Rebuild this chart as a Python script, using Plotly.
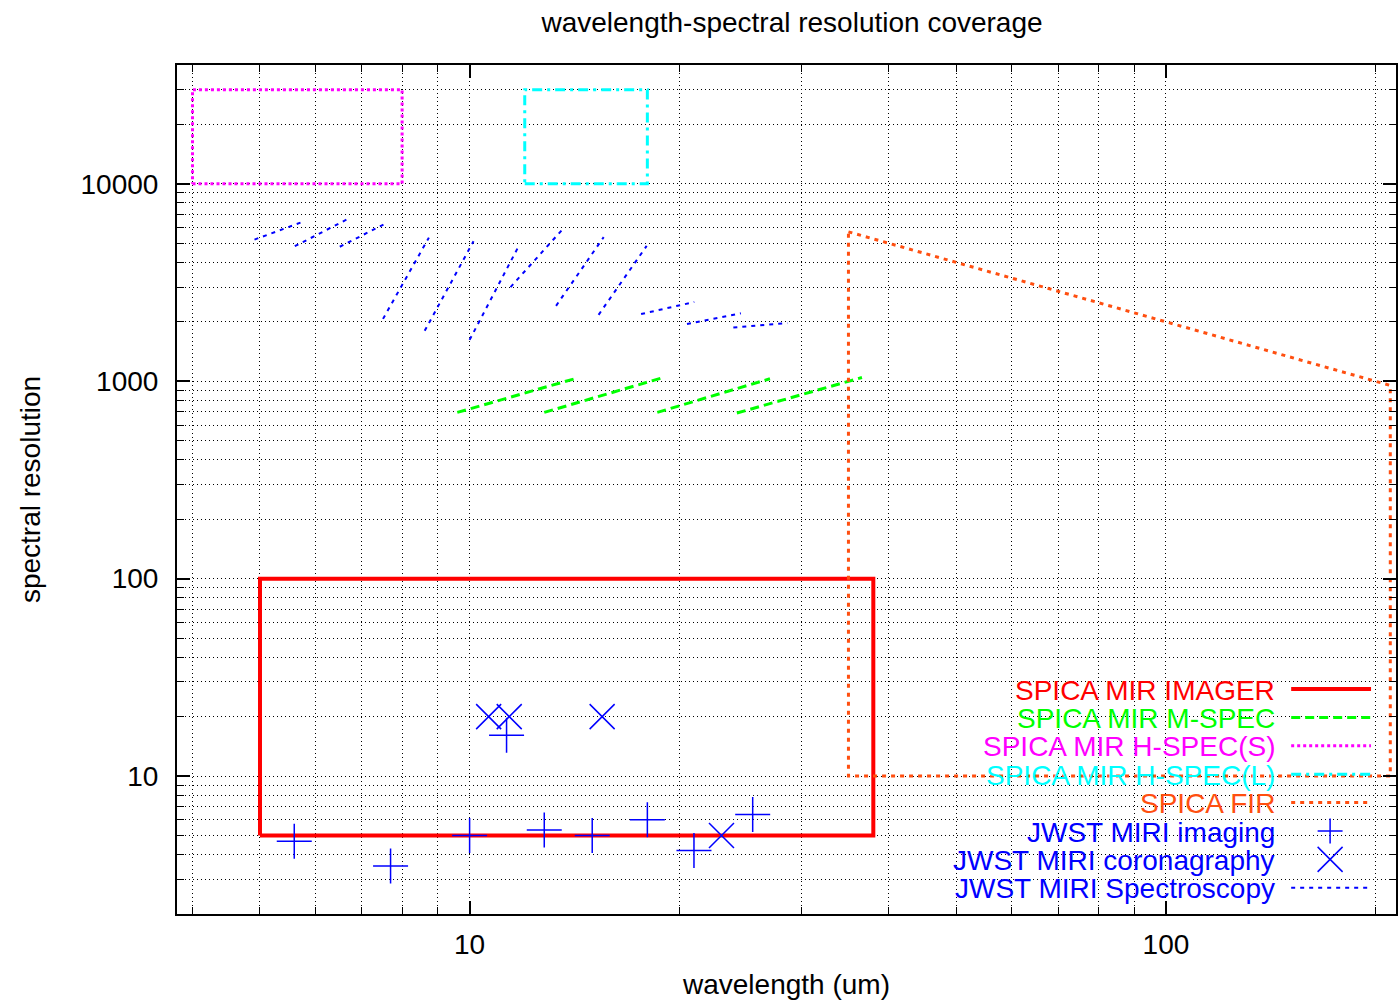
import math
import plotly.graph_objects as go

# ---------------------------------------------------------------- data
# SPICA MIR imager: wavelength span (um) and resolution span
imager_wave = [5.0, 38.0]
imager_res = [5.0, 100.0]

# SPICA MIR medium-resolution spectrometer: four bands (start/end)
mspec_wave_start = [9.6, 12.8, 18.6, 24.2]
mspec_wave_end = [14.3, 18.8, 27.0, 36.6]
mspec_res_start = [695, 695, 695, 690]
mspec_res_end = [1040, 1035, 1030, 1045]

# SPICA MIR high-resolution spectrometers (short / long)
hspec_s_wave = [4.0, 8.0]
hspec_s_res = [10000, 30000]
hspec_l_wave = [12.0, 18.0]
hspec_l_res = [10000, 30000]

# SPICA far-infrared instrument coverage outline
fir_wave = [35.0, 210.0, 210.0, 35.0, 35.0]
fir_res = [5714, 952, 10, 10, 5714]

# JWST MIRI imaging filters
miri_img_wave = [5.6, 7.7, 10.0, 11.3, 12.8, 15.0, 18.0, 21.0, 25.5]
miri_img_res = [4.67, 3.5, 5.0, 16.1, 5.33, 5.0, 6.0, 4.2, 6.375]

# JWST MIRI coronagraphy filters
miri_cor_wave = [10.65, 11.4, 15.5, 23.0]
miri_cor_res = [20, 20, 20, 5]

# JWST MIRI MRS sub-bands (start/end)
mrs_wave_start = [4.91, 5.61, 6.51, 7.51, 8.62, 10.0, 11.45, 13.31, 15.32, 17.63, 20.52, 23.92]
mrs_wave_end = [5.77, 6.69, 7.62, 8.74, 10.13, 11.72, 13.58, 15.58, 17.96, 21.02, 24.52, 28.6]
mrs_res_start = [5220, 4830, 4800, 2070, 1800, 1620, 3000, 2410, 2170, 2190, 1950, 1870]
mrs_res_end = [6440, 6650, 6370, 5340, 5120, 4720, 5850, 5370, 4850, 2520, 2210, 1970]

x_range = [3.8, 214.0]
y_range = [2.0, 40000.0]
x_tick_values = [10, 100]
y_tick_values = [10, 100, 1000, 10000]

# ---------------------------------------------------------------- styles
FONT = "Liberation Sans, Arial, Helvetica, sans-serif"
FS = 28
C_RED = "#ff0000"
C_GREEN = "#00ff00"
C_MAGENTA = "#ff00ff"
C_CYAN = "#00ffff"
C_ORANGE = "#ff4f10"
C_BLUE = "#0000ff"

DASH_MSPEC = "9px,5px"
DASH_HS = "3px,3px"
DASH_HL = "10px,5px,3px,5px"
DASH_FIR = "4px,5px"
DASH_MRS = "4px,5px"


def rect(xs, ys):
    x0, x1 = xs
    y0, y1 = ys
    return [x0, x1, x1, x0, x0], [y0, y0, y1, y1, y0]


def segments(x0s, x1s, y0s, y1s):
    xs, ys = [], []
    for a, b, c, d in zip(x0s, x1s, y0s, y1s):
        xs += [a, b, None]
        ys += [c, d, None]
    return xs, ys


fig = go.Figure()

x, y = rect(imager_wave, imager_res)
fig.add_trace(go.Scatter(x=x, y=y, mode="lines", name="SPICA MIR IMAGER",
                         line=dict(color=C_RED, width=4)))

x, y = segments(mspec_wave_start, mspec_wave_end, mspec_res_start, mspec_res_end)
fig.add_trace(go.Scatter(x=x, y=y, mode="lines", name="SPICA MIR M-SPEC",
                         line=dict(color=C_GREEN, width=3, dash=DASH_MSPEC)))

x, y = rect(hspec_s_wave, hspec_s_res)
fig.add_trace(go.Scatter(x=x, y=y, mode="lines", name="SPICA MIR H-SPEC(S)",
                         line=dict(color=C_MAGENTA, width=3, dash=DASH_HS)))

x, y = rect(hspec_l_wave, hspec_l_res)
fig.add_trace(go.Scatter(x=x, y=y, mode="lines", name="SPICA MIR H-SPEC(L)",
                         line=dict(color=C_CYAN, width=3, dash=DASH_HL)))

fig.add_trace(go.Scatter(x=fir_wave, y=fir_res, mode="lines", name="SPICA FIR",
                         line=dict(color=C_ORANGE, width=3, dash=DASH_FIR)))

fig.add_trace(go.Scatter(x=miri_img_wave, y=miri_img_res, mode="markers",
                         name="JWST MIRI imaging",
                         marker=dict(symbol="cross-thin", size=25,
                                     line=dict(color=C_BLUE, width=1.5))))

fig.add_trace(go.Scatter(x=miri_cor_wave, y=miri_cor_res, mode="markers",
                         name="JWST MIRI coronagraphy",
                         marker=dict(symbol="x-thin", size=25,
                                     line=dict(color=C_BLUE, width=1.5))))

x, y = segments(mrs_wave_start, mrs_wave_end, mrs_res_start, mrs_res_end)
fig.add_trace(go.Scatter(x=x, y=y, mode="lines", name="JWST MIRI Spectroscopy",
                         line=dict(color=C_BLUE, width=2, dash=DASH_MRS)))

# ---------------------------------------------------------------- layout
W, H = 1398, 1002
ML, MR, MT, MB = 177, 0, 65, 88
PW, PH = W - ML - MR, H - MT - MB


def px(X):
    return (X - ML) / PW


def py(Y):
    return (H - MB - Y) / PH


# key: text right-aligned, sample drawn to its right
key_rows = [
    ("SPICA MIR IMAGER", C_RED, "line", "solid", 4),
    ("SPICA MIR M-SPEC", C_GREEN, "line", DASH_MSPEC, 3),
    ("SPICA MIR H-SPEC(S)", C_MAGENTA, "line", DASH_HS, 3),
    ("SPICA MIR H-SPEC(L)", C_CYAN, "line", DASH_HL, 3),
    ("SPICA FIR", C_ORANGE, "line", DASH_FIR, 3),
    ("JWST MIRI imaging", C_BLUE, "plus", None, 1.5),
    ("JWST MIRI coronagraphy", C_BLUE, "cross", None, 1.5),
    ("JWST MIRI Spectroscopy", C_BLUE, "line", DASH_MRS, 2),
]
KEY_Y0, KEY_DY = 689, 28.4
TEXT_RIGHT = 1279
SAMPLE_X0, SAMPLE_X1 = 1293, 1373
MARK_CX, MARK_HALF = 1332, 12.5

annotations = []
shapes = []
for i, (label, col, kind, dash, w) in enumerate(key_rows):
    yc = KEY_Y0 + i * KEY_DY
    annotations.append(dict(xref="paper", yref="paper", x=px(TEXT_RIGHT), y=py(yc + 1),
                            text=label, showarrow=False, xanchor="right", yanchor="middle",
                            font=dict(family=FONT, size=FS, color=col)))
    if kind == "line":
        shapes.append(dict(type="line", xref="paper", yref="paper",
                           x0=px(SAMPLE_X0), x1=px(SAMPLE_X1), y0=py(yc), y1=py(yc),
                           line=dict(color=col, width=w, dash=dash)))
    elif kind == "plus":
        shapes.append(dict(type="line", xref="paper", yref="paper",
                           x0=px(MARK_CX - MARK_HALF), x1=px(MARK_CX + MARK_HALF),
                           y0=py(yc), y1=py(yc), line=dict(color=col, width=w)))
        shapes.append(dict(type="line", xref="paper", yref="paper",
                           x0=px(MARK_CX), x1=px(MARK_CX),
                           y0=py(yc - MARK_HALF), y1=py(yc + MARK_HALF),
                           line=dict(color=col, width=w)))
    else:
        shapes.append(dict(type="line", xref="paper", yref="paper",
                           x0=px(MARK_CX - MARK_HALF), x1=px(MARK_CX + MARK_HALF),
                           y0=py(yc - MARK_HALF), y1=py(yc + MARK_HALF),
                           line=dict(color=col, width=w)))
        shapes.append(dict(type="line", xref="paper", yref="paper",
                           x0=px(MARK_CX - MARK_HALF), x1=px(MARK_CX + MARK_HALF),
                           y0=py(yc + MARK_HALF), y1=py(yc - MARK_HALF),
                           line=dict(color=col, width=w)))

axis_common = dict(
    type="log",
    tickmode="array",
    ticks="inside", ticklen=13, tickwidth=1.5, tickcolor="black",
    showline=True, linecolor="black", linewidth=2, mirror="ticks",
    showgrid=True, gridcolor="black", gridwidth=1, griddash="1px,3px",
    zeroline=False,
    tickfont=dict(family=FONT, size=FS, color="black"),
    minor=dict(dtick="D1", ticks="inside", ticklen=7, tickwidth=1, tickcolor="black",
               showgrid=True, gridcolor="black", gridwidth=1, griddash="1px,3px"),
)

fig.update_layout(
    width=W, height=H,
    margin=dict(l=ML, r=MR, t=MT, b=MB, pad=0),
    paper_bgcolor="white", plot_bgcolor="white",
    showlegend=False,
    font=dict(family=FONT, size=FS, color="black"),
    title=dict(text="wavelength-spectral resolution coverage", x=792 / W,
               xanchor="center", y=1 - 22 / H, yanchor="middle",
               font=dict(family=FONT, size=FS, color="black")),
    xaxis=dict(axis_common, range=[math.log10(x_range[0]), math.log10(x_range[1])],
               tickvals=x_tick_values, ticktext=[str(v) for v in x_tick_values],
               ticklabelstandoff=4,
               title=dict(text="wavelength (um)", standoff=16,
                          font=dict(family=FONT, size=FS, color="black"))),
    yaxis=dict(axis_common, range=[math.log10(y_range[0]), math.log10(y_range[1])],
               tickvals=y_tick_values, ticktext=[str(v) for v in y_tick_values],
               ticklabelstandoff=11,
               title=dict(text="spectral resolution", standoff=32,
                          font=dict(family=FONT, size=FS, color="black"))),
    annotations=annotations,
    shapes=shapes,
)

fig.write_html("out.html")
